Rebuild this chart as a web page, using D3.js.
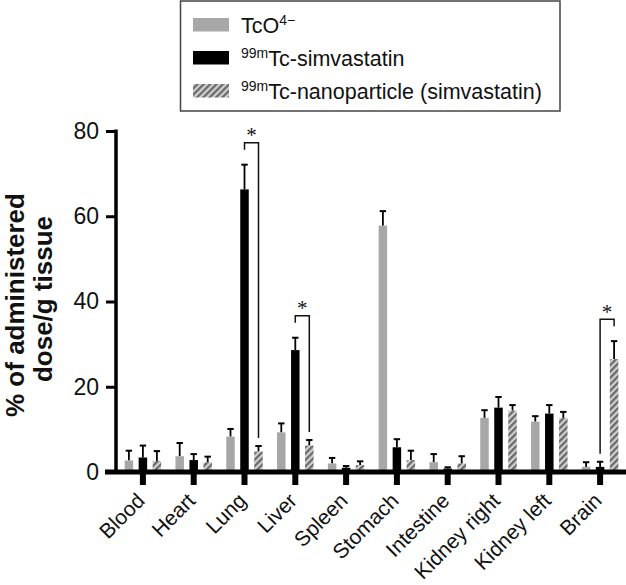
<!DOCTYPE html>
<html>
<head>
<meta charset="utf-8">
<script src="https://cdn.jsdelivr.net/npm/d3@7"></script>
<style>
  html, body { margin: 0; padding: 0; background: #fff; }
  svg { display: block; font-family: "Liberation Sans", Arial, sans-serif; }
</style>
</head>
<body>
<svg id="chart" width="626" height="585"></svg>
<script>
const categories = ["Blood", "Heart", "Lung", "Liver", "Spleen", "Stomach", "Intestine", "Kidney right", "Kidney left", "Brain"];
const seriesKeys = ["tco4", "simva", "nano"];
const tco4Values = [2.7, 3.7, 8.3, 9.3, 2.0, 57.8, 2.3, 12.7, 11.8, 1.2];
const tco4Errors = [2.3, 3.1, 1.8, 2.1, 1.3, 3.4, 1.9, 1.8, 1.3, 1.1];
const simvaValues = [3.4, 2.8, 66.3, 28.6, 1.0, 5.8, 0.8, 15.1, 13.7, 1.2];
const simvaErrors = [2.8, 1.4, 5.8, 2.9, 0.4, 1.9, 0.3, 2.5, 2.0, 1.2];
const nanoValues = [2.6, 2.3, 4.8, 6.2, 1.6, 2.8, 2.0, 14.4, 12.7, 26.5];
const nanoErrors = [2.3, 1.3, 1.3, 1.3, 0.9, 2.2, 1.7, 1.3, 1.4, 4.2];
const yTicks = [0, 20, 40, 60, 80];
const significance = [
  { category: "Lung", from: "simva", to: "nano" },
  { category: "Liver", from: "simva", to: "nano" },
  { category: "Brain", from: "simva", to: "nano" }
];

const valuesByKey = { tco4: tco4Values, simva: simvaValues, nano: nanoValues };
const errorsByKey = { tco4: tco4Errors, simva: simvaErrors, nano: nanoErrors };

const svg = d3.select("#chart");

const defs = svg.append("defs");
const pat = defs.append("pattern")
  .attr("id", "hatch").attr("patternUnits", "userSpaceOnUse")
  .attr("width", 4.5).attr("height", 4.5)
  .attr("patternTransform", "rotate(45)");
pat.append("rect").attr("width", 4.5).attr("height", 4.5).attr("fill", "#d2d2d2");
pat.append("rect").attr("width", 2.3).attr("height", 4.5).attr("fill", "#6a6a6a");

const fills = { tco4: "#a7a7a7", simva: "#000000", nano: "url(#hatch)" };

const x = d3.scaleBand().domain(categories).range([117.5, 625.5]).padding(0);
const inner = d3.scalePoint().domain(seriesKeys).range([-14, 14]);
const y = d3.scaleLinear().domain([0, 80]).range([472, 131]);
const barW = 8.5;
const cx = c => x(c) + x.bandwidth() / 2;

const barData = [];
categories.forEach((c, i) => {
  seriesKeys.forEach(k => {
    barData.push({ c, k, v: valuesByKey[k][i], e: errorsByKey[k][i] });
  });
});

const g = svg.append("g");

g.selectAll("line.err").data(barData).join("line")
  .attr("class", "err")
  .attr("x1", d => cx(d.c) + inner(d.k)).attr("x2", d => cx(d.c) + inner(d.k))
  .attr("y1", d => y(d.v)).attr("y2", d => y(d.v + d.e))
  .attr("stroke", "#000").attr("stroke-width", 1.8);
g.selectAll("line.cap").data(barData).join("line")
  .attr("class", "cap")
  .attr("x1", d => cx(d.c) + inner(d.k) - 3.2).attr("x2", d => cx(d.c) + inner(d.k) + 3.2)
  .attr("y1", d => y(d.v + d.e)).attr("y2", d => y(d.v + d.e))
  .attr("stroke", "#000").attr("stroke-width", 2);

g.selectAll("rect.bar").data(barData).join("rect")
  .attr("class", "bar")
  .attr("x", d => cx(d.c) + inner(d.k) - barW / 2)
  .attr("width", barW)
  .attr("y", d => y(d.v))
  .attr("height", d => y(0) - y(d.v))
  .attr("fill", d => fills[d.k]);

// axes
const yAxis = d3.axisLeft(y).tickValues(yTicks).tickSize(10).tickSizeOuter(0).tickPadding(7);
const ya = svg.append("g").attr("transform", "translate(116,0)").call(yAxis);
ya.select(".domain").remove();
ya.selectAll(".tick line").attr("stroke", "#000").attr("stroke-width", 3);
ya.selectAll(".tick text").attr("font-size", 23).attr("fill", "#111")
  .attr("font-family", "Liberation Sans, Arial, sans-serif");
svg.append("line").attr("x1", 116).attr("x2", 116).attr("y1", y(80) - 1.5).attr("y2", y(0))
  .attr("stroke", "#000").attr("stroke-width", 3.5);

const xAxis = d3.axisBottom(x).tickSize(13).tickSizeOuter(0).tickFormat("");
const xa = svg.append("g").attr("transform", `translate(0,${y(0)})`).call(xAxis);
xa.select(".domain").remove();
xa.selectAll(".tick line").attr("stroke", "#000").attr("stroke-width", 6);
svg.append("line").attr("x1", 105).attr("x2", 626).attr("y1", y(0)).attr("y2", y(0))
  .attr("stroke", "#000").attr("stroke-width", 5);

// x labels
svg.append("g").selectAll("text").data(categories).join("text")
  .attr("transform", d => `translate(${cx(d) + 3},${502}) rotate(-45)`)
  .attr("text-anchor", "end")
  .attr("font-size", 21)
  .attr("fill", "#111")
  .text(d => d);

// y title
const yTitle = svg.append("g").attr("font-weight", "bold").attr("font-size", 26).attr("fill", "#111");
yTitle.append("text").attr("transform", "translate(24,305) rotate(-90)").attr("text-anchor", "middle").text("% of administered");
yTitle.append("text").attr("transform", "translate(52,299) rotate(-90)").attr("text-anchor", "middle").text("dose/g tissue");

// significance brackets
const sg = svg.append("g");
significance.forEach(s => {
  const i = categories.indexOf(s.category);
  const xa1 = cx(s.category) + inner(s.from);
  const xb1 = cx(s.category) + inner(s.to);
  const ta = y(valuesByKey[s.from][i] + errorsByKey[s.from][i]);
  const tb = y(valuesByKey[s.to][i] + errorsByKey[s.to][i]);
  const top = Math.min(ta, tb) - 22;
  const la = ta <= tb ? top + 7 : ta - 8;
  const lb = tb < ta ? top + 7 : tb - 8;
  sg.append("path")
    .attr("d", `M${xa1},${la}V${top}H${xb1}V${lb}`)
    .attr("fill", "none").attr("stroke", "#111").attr("stroke-width", 1.5);
  sg.append("text").attr("x", (xa1 + xb1) / 2).attr("y", top - 0.5)
    .attr("text-anchor", "middle").attr("font-size", 21).attr("fill", "#111")
    .attr("font-family", "Liberation Serif, serif")
    .text("*");
});

// legend
const lg = svg.append("g");
lg.append("rect").attr("x", 180.5).attr("y", 1).attr("width", 379.5).attr("height", 110)
  .attr("fill", "#fff").attr("stroke", "#444").attr("stroke-width", 1.5);
const legendItems = [
  { k: "tco4", pre: "", main: "TcO", sup: "4\u2212" },
  { k: "simva", pre: "99m", main: "Tc-simvastatin", sup: "" },
  { k: "nano", pre: "99m", main: "Tc-nanoparticle (simvastatin)", sup: "" }
];
const baselines = [32.5, 65.5, 98.5];
legendItems.forEach((it, j) => {
  const b = baselines[j];
  lg.append("rect").attr("x", 193).attr("y", b - 14.5).attr("width", 36).attr("height", 13.5)
    .attr("fill", fills[it.k]);
  const t = lg.append("text").attr("x", 241).attr("y", b).attr("font-size", 21.5).attr("fill", "#111");
  if (it.pre) t.append("tspan").attr("font-size", 14).attr("dy", -8).text(it.pre);
  t.append("tspan").attr("dy", it.pre ? 8 : 0).text(it.main);
  if (it.sup) t.append("tspan").attr("font-size", 14).attr("dy", -8).text(it.sup);
});
</script>
</body>
</html>
